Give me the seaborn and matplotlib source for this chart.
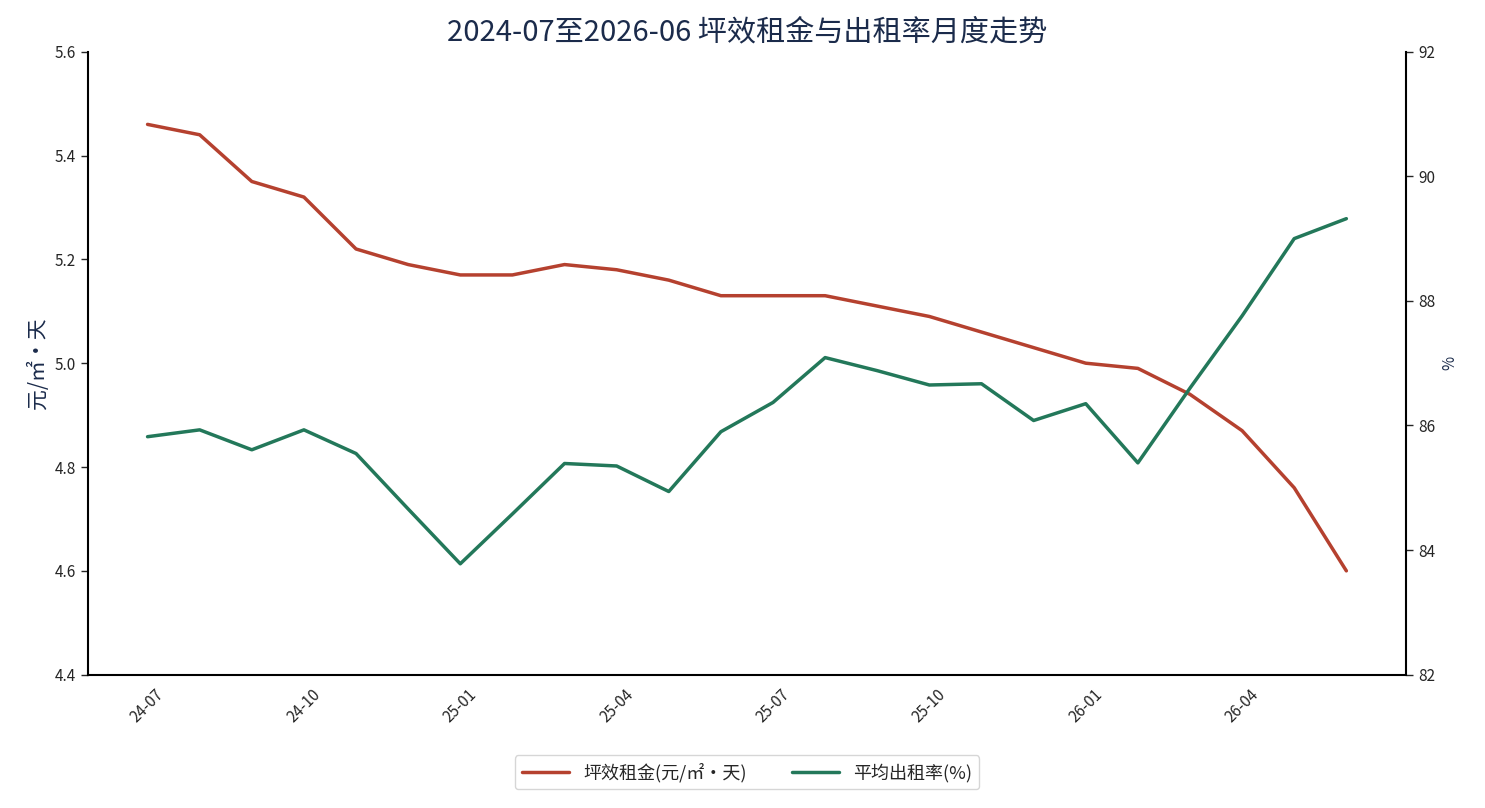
import matplotlib
matplotlib.use('Agg')
import matplotlib.pyplot as plt
import seaborn as sns
import pandas as pd

months = ['24-07', '24-08', '24-09', '24-10', '24-11', '24-12',
          '25-01', '25-02', '25-03', '25-04', '25-05', '25-06',
          '25-07', '25-08', '25-09', '25-10', '25-11', '25-12',
          '26-01', '26-02', '26-03', '26-04', '26-05', '26-06']
rent = [5.46, 5.44, 5.35, 5.32, 5.22, 5.19, 5.17, 5.17, 5.19, 5.18, 5.16, 5.13,
        5.13, 5.13, 5.11, 5.09, 5.06, 5.03, 5.00, 4.99, 4.94, 4.87, 4.76, 4.60]
occupancy = [85.82, 85.93, 85.61, 85.93, 85.55, 84.66, 83.78, 84.58, 85.39, 85.35,
             84.94, 85.90, 86.37, 87.09, 86.88, 86.65, 86.67, 86.08, 86.35, 85.40,
             86.60, 87.76, 89.00, 89.32]

df = pd.DataFrame({'month': months, 'rent': rent, 'occ': occupancy})
df['i'] = range(len(df))

sns.set_style('white')
plt.rcParams['font.family'] = ['Noto Sans CJK SC', 'DejaVu Sans']
plt.rcParams['axes.unicode_minus'] = False

red = '#b5412f'
green = '#23785a'
navy = '#1b2b4b'

fig, ax = plt.subplots(figsize=(14.85, 8.08), dpi=100)
fig.subplots_adjust(left=0.059, right=0.947, top=0.936, bottom=0.165)

sns.lineplot(data=df, x='i', y='rent', ax=ax, color=red, linewidth=2.5,
             label='坪效租金(元/㎡・天)', legend=False)
ax2 = ax.twinx()
sns.lineplot(data=df, x='i', y='occ', ax=ax2, color=green, linewidth=2.5,
             label='平均出租率(%)', legend=False)

ax.set_ylim(4.4, 5.6)
ax2.set_ylim(82, 92)
ax.set_xlim(-1.15, 24.15)
ax.set_yticks([4.4, 4.6, 4.8, 5.0, 5.2, 5.4, 5.6])
ax.set_yticklabels([f'{v:.1f}' for v in [4.4, 4.6, 4.8, 5.0, 5.2, 5.4, 5.6]])
ax2.set_yticks([82, 84, 86, 88, 90, 92])

ticks = list(range(0, 24, 3))
ax.set_xticks(ticks)
ax.set_xticklabels([months[t] for t in ticks], rotation=45, fontsize=11)
ax.set_xlabel('')
ax.set_ylabel('元/㎡・天', fontsize=15, color=navy)
ax2.set_ylabel('%', fontsize=11, color=navy)
ax.tick_params(axis='y', labelsize=11, length=5, width=1)
ax.tick_params(axis='x', length=5, width=1)
ax2.tick_params(axis='y', labelsize=11, length=5, width=1)

for a in (ax, ax2):
    a.spines['top'].set_visible(False)
    for s in a.spines.values():
        s.set_color('black')
        s.set_linewidth(1.5)
ax.spines['right'].set_visible(False)
ax2.spines['left'].set_visible(False)
ax2.spines['bottom'].set_visible(False)

ax.set_title('2024-07至2026-06 坪效租金与出租率月度走势', fontsize=21, color=navy, pad=8)

h1, l1 = ax.get_legend_handles_labels()
h2, l2 = ax2.get_legend_handles_labels()
fig.legend(h1 + h2, l1 + l2, loc='lower center', ncol=2, fontsize=13,
           bbox_to_anchor=(0.503, 0.012), frameon=True, handlelength=2.6,
           columnspacing=2.5)

fig.savefig('out.png', dpi=100)
